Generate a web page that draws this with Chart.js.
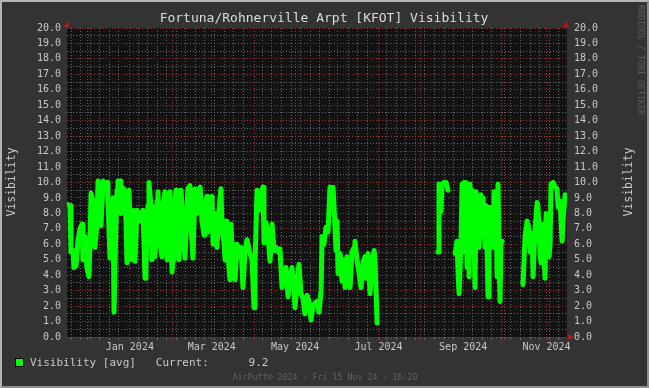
<!DOCTYPE html>
<html>
<head>
<meta charset="utf-8">
<script src="https://cdn.jsdelivr.net/npm/chart.js@4.4.1/dist/chart.umd.min.js"></script>
<style>
  html, body { margin: 0; padding: 0; background: #333333; }
  #wrap { width: 649px; height: 388px; }
</style>
</head>
<body>
<div id="wrap"><canvas id="visChart" width="649" height="388"></canvas></div>
<script>
// days since 16 Nov 2023, one year shown
var days = [
  0, 0.7, 2.2, 2.9, 4.4, 5.1, 6.6, 8.1, 9.5, 11.0, 11.7, 13.2, 14.6, 16.1, 16.8, 17.6, 19.0, 20.5, 22.0, 22.7,
  24.2, 24.9, 26.4, 27.8, 29.3, 30.0, 31.5, 32.9, 33.7, 34.4, 35.9, 36.6, 37.3, 38.8, 39.5, 40.3, 41.7, 43.2, 43.9, 44.7,
  45.4, 46.9, 47.6, 48.3, 49.8, 51.2, 52.7, 54.2, 55.6, 57.1, 57.8, 59.3, 60.0, 61.5, 62.2, 63.7, 64.4, 65.9, 66.6, 68.1,
  69.5, 70.3, 71.7, 73.2, 73.9, 75.4, 76.9, 77.6, 78.3, 79.8, 80.5, 82.0, 83.5, 84.9, 86.4, 87.9, 88.6, 90.0, 90.8, 92.2,
  93.7, 95.2, 96.6, 97.4, 98.8, 100.3, 101.0, 102.5, 103.2, 104.7, 106.2, 106.9, 108.3, 109.8, 111.3, 112.7, 113.5, 114.9, 115.7, 116.4,
  117.1, 117.9, 119.3, 120.1, 120.8, 121.5, 122.3, 123.0, 124.5, 125.2, 126.7, 127.4, 128.8, 130.3, 131.8, 132.5, 134.0, 135.4, 136.9, 137.6,
  139.1, 140.6, 142.0, 143.5, 144.2, 145.7, 147.2, 148.6, 150.1, 151.5, 153.0, 154.5, 155.9, 157.4, 158.9, 160.3, 161.8, 163.3, 164.7, 166.2,
  166.9, 168.4, 169.8, 171.3, 172.8, 174.2, 175.7, 177.2, 178.6, 180.1, 181.6, 183.0, 184.5, 186.0, 186.7, 188.1, 189.6, 191.1, 192.5, 194.0,
  194.7, 195.5, 196.9, 197.7, 198.4, 199.9, 201.3, 202.8, 203.5, 205.0, 206.4, 207.2, 208.6, 210.1, 210.8, 212.3, 213.8, 215.2, 216.7, 218.2,
  218.9, 220.4, 221.8, 223.3, 224.8, 225.5, 227.0,
  249,
  271.6, 272.3, 273.1, 273.8, 274.5, 276.0, 277.5, 278.9,
  281.5,
  284.1, 285.5, 286.3, 287.0, 288.4, 289.2, 289.9, 290.6, 291.4, 292.1, 292.8, 293.6, 294.3, 295.0, 295.8, 296.5, 298.0, 298.7, 299.4, 300.2,
  300.9, 301.6, 303.1, 303.8, 304.6, 306.0, 306.7, 307.5, 308.2, 308.9, 309.7, 311.1, 311.9, 312.6, 313.3, 314.1, 314.8, 315.5, 316.3, 317.0,
  317.7, 318.5,
  326,
  333.8, 335.3, 336.8, 338.2, 339.0, 340.4, 341.2, 342.6, 344.1, 344.8, 346.3, 347.0, 348.5, 349.2, 349.9, 350.7, 352.1, 352.9, 353.6, 354.3,
  355.8, 357.3, 358.7, 359.5, 360.9, 362.4, 363.1, 364.6
];
var vis = [
  8.6, 8.6, 8.5, 5.5, 5.6, 4.5, 4.6, 6.3, 7.0, 7.3, 5.0, 6.5, 4.5, 3.9, 6.0, 9.3, 8.8, 5.8, 7.5, 10.1,
  9.8, 7.2, 10.1, 9.9, 10.0, 8.8, 5.1, 8.0, 9.0, 1.6, 7.5, 9.5, 10.1, 10.1, 8.0, 8.3, 9.6, 7.5, 4.8, 8.8,
  9.5, 5.0, 7.8, 8.2, 4.9, 8.2, 8.0, 7.5, 8.2, 3.8, 4.5, 8.5, 10.0, 8.5, 5.0, 6.5, 5.2, 8.8, 9.4, 6.0,
  5.2, 8.5, 9.4, 5.0, 8.2, 9.4, 4.2, 5.0, 8.0, 9.5, 6.5, 5.0, 9.5, 7.2, 5.1, 8.5, 9.6, 9.8, 7.0, 5.1,
  9.6, 8.0, 9.5, 9.7, 7.5, 6.6, 8.5, 9.1, 6.8, 7.0, 9.1, 6.0, 8.0, 5.8, 8.2, 9.6, 7.0, 6.1, 5.0, 7.5,
  6.8, 5.2, 3.7, 7.3, 5.6, 4.6, 6.0, 3.7, 6.0, 5.8, 5.2, 5.8, 3.2, 5.5, 6.3, 6.0, 5.4, 5.0, 1.9, 4.5,
  9.5, 8.2, 9.3, 9.7, 6.1, 7.4, 6.5, 4.9, 7.3, 5.6, 5.8, 5.5, 5.7, 3.2, 4.0, 4.5, 2.6, 3.8, 4.5, 3.2,
  1.9, 3.5, 4.7, 2.8, 2.5, 1.5, 2.7, 2.3, 1.1, 2.0, 2.2, 2.3, 1.6, 3.0, 6.5, 6.0, 7.1, 6.8, 9.7, 8.8,
  9.7, 8.4, 5.6, 7.5, 4.1, 5.4, 3.6, 5.0, 3.2, 5.2, 4.8, 3.2, 5.5, 5.8, 6.2, 5.0, 4.1, 3.2, 4.8, 5.2,
  3.8, 5.4, 2.8, 4.8, 5.6, 5.0, 0.9,
  null,
  5.5, 9.9, 9.8, 8.1, 9.9, 10.0, 10.0, 9.5,
  null,
  5.4, 6.2, 4.0, 2.8, 6.0, 9.9, 5.5, 10.0, 7.0, 10.0, 4.5, 9.8, 3.9, 9.9, 5.8, 9.5, 6.0, 3.2, 9.4, 7.0,
  9.0, 5.8, 9.2, 6.5, 9.0, 5.8, 8.5, 5.8, 2.6, 8.4, 6.2, 8.4, 5.8, 9.4, 6.0, 9.4, 3.9, 9.9, 5.0, 2.3,
  6.2, 6.2,
  null,
  3.4, 6.5, 7.5, 7.0, 5.5, 6.7, 3.9, 7.0, 8.7, 8.4, 5.4, 4.8, 7.3, 5.5, 3.8, 8.0, 7.5, 5.2, 6.0, 9.9,
  10.0, 9.7, 9.6, 8.4, 8.8, 6.2, 7.5, 9.2
];

var monthDays = [15, 46, 77, 106, 137, 167, 198, 228, 259, 290, 320, 351];
var monthLabels = ['', 'Jan 2024', '', 'Mar 2024', '', 'May 2024', '', 'Jul 2024', '', 'Sep 2024', '', 'Nov 2024'];
var currentValue = '9.2';

var font = 'DejaVu Sans Mono';
var textColor = '#c8c8c8';
var majorGrid = '#a03636';
var minorGrid = '#666666';

var points = [];
for (var i = 0; i < days.length; i++) {
    points.push({ x: days[i], y: vis[i] });
}

var weekDays = [];
for (var d = 3; d < 366; d += 7) {
    weekDays.push(d);
}

var decorPlugin = {
    id: 'decor',
    beforeDraw: function (chart) {
        var ctx = chart.ctx;
        var a = chart.chartArea;
        ctx.save();
        ctx.fillStyle = '#333333';
        ctx.fillRect(0, 0, chart.width, chart.height);
        ctx.fillStyle = '#121212';
        ctx.fillRect(a.left, a.top, a.right - a.left, a.bottom - a.top);
        ctx.restore();
    },
    afterDraw: function (chart) {
        var ctx = chart.ctx;
        var a = chart.chartArea;
        ctx.save();

        // title
        ctx.fillStyle = '#dcdcdc';
        ctx.font = '13px "' + font + '"';
        ctx.textAlign = 'center';
        ctx.textBaseline = 'middle';
        ctx.fillText('Fortuna/Rohnerville Arpt [KFOT] Visibility', 324, 19);

        // arrows
        ctx.fillStyle = '#a81e1e';
        [a.left, a.right - 1].forEach(function (x) {
            ctx.beginPath();
            ctx.moveTo(x - 3, a.top - 1);
            ctx.lineTo(x + 3, a.top - 1);
            ctx.lineTo(x, a.top - 7);
            ctx.closePath();
            ctx.fill();
        });
        ctx.beginPath();
        ctx.moveTo(a.right + 1, a.bottom - 3);
        ctx.lineTo(a.right + 1, a.bottom + 3);
        ctx.lineTo(a.right + 7, a.bottom);
        ctx.closePath();
        ctx.fill();

        // y axis titles
        ctx.fillStyle = textColor;
        ctx.font = '11.5px "' + font + '"';
        ctx.save();
        ctx.translate(12, 182);
        ctx.rotate(-Math.PI / 2);
        ctx.fillText('Visibility', 0, 0);
        ctx.restore();
        ctx.save();
        ctx.translate(629, 182);
        ctx.rotate(-Math.PI / 2);
        ctx.fillText('Visibility', 0, 0);
        ctx.restore();

        // rrdtool credit
        ctx.save();
        ctx.fillStyle = '#5c5c5c';
        ctx.font = '8.3px "' + font + '"';
        ctx.translate(640, 5);
        ctx.rotate(Math.PI / 2);
        ctx.textAlign = 'left';
        ctx.fillText('RRDTOOL / TOBI OETIKER', 0, 0);
        ctx.restore();

        // legend
        ctx.fillStyle = '#00ff00';
        ctx.fillRect(15, 358, 9, 9);
        ctx.strokeStyle = '#000000';
        ctx.lineWidth = 1;
        ctx.strokeRect(15.5, 358.5, 8, 8);
        ctx.fillStyle = textColor;
        ctx.font = '11px "' + font + '"';
        ctx.textAlign = 'left';
        ctx.fillText('Visibility [avg]   Current:      ' + currentValue, 30, 363);

        // footer
        ctx.fillStyle = '#626262';
        ctx.font = '8.3px "' + font + '"';
        ctx.textAlign = 'center';
        ctx.fillText('AirPuff\u00ae 2024 - Fri 15 Nov 24 - 16:20', 325, 378);

        // frame
        ctx.lineWidth = 2;
        ctx.strokeStyle = '#b4b4b4';
        ctx.beginPath();
        ctx.moveTo(1, chart.height);
        ctx.lineTo(1, 1);
        ctx.lineTo(chart.width, 1);
        ctx.stroke();
        ctx.strokeStyle = '#8e8e8e';
        ctx.beginPath();
        ctx.moveTo(chart.width - 1, 1);
        ctx.lineTo(chart.width - 1, chart.height - 1);
        ctx.lineTo(1, chart.height - 1);
        ctx.stroke();

        ctx.restore();
    }
};

var ctx = document.getElementById('visChart');
var visChart = new Chart(ctx, {
    type: 'line',
    data: {
        datasets: [{
            label: 'Visibility [avg]',
            data: points,
            borderColor: '#00ff00',
            borderWidth: 5,
            borderJoinStyle: 'round',
            borderCapStyle: 'round',
            pointRadius: 0,
            tension: 0,
            spanGaps: false,
            yAxisID: 'y'
        }]
    },
    options: {
        responsive: false,
        animation: false,
        layout: { padding: { top: 28, left: 0, right: 0, bottom: 0 } },
        plugins: {
            legend: { display: false },
            title: { display: false },
            tooltip: { enabled: false }
        },
        scales: {
            x: {
                type: 'linear',
                min: 0,
                max: 366,
                afterBuildTicks: function (scale) {
                    var all = monthDays.concat(weekDays.filter(function (w) {
                        return monthDays.every(function (m) { return Math.abs(m - w) > 1.5; });
                    }));
                    all.sort(function (p, q) { return p - q; });
                    scale.ticks = all.map(function (v) { return { value: v }; });
                },
                afterFit: function (scale) { scale.height = 51; },
                border: { display: false, dash: [1, 2] },
                grid: {
                    color: function (c) {
                        return monthDays.indexOf(c.tick.value) >= 0 ? majorGrid : minorGrid;
                    },
                    lineWidth: 1,
                    tickLength: 3,
                    drawTicks: true
                },
                ticks: {
                    autoSkip: false,
                    maxRotation: 0,
                    padding: 1,
                    color: textColor,
                    font: { family: font, size: 10 },
                    callback: function (v) {
                        var k = monthDays.indexOf(v);
                        return k >= 0 ? monthLabels[k] : '';
                    }
                }
            },
            y: {
                position: 'left',
                min: 0,
                max: 20,
                afterFit: function (scale) { scale.width = 67; },
                border: { display: false, dash: [1, 2] },
                grid: {
                    color: function (c) {
                        return Number.isInteger(c.tick.value) ? majorGrid : minorGrid;
                    },
                    drawTicks: false
                },
                ticks: {
                    stepSize: 0.5,
                    autoSkip: false,
                    padding: 6,
                    color: textColor,
                    font: { family: font, size: 10 },
                    callback: function (v) { return Number.isInteger(v) ? v.toFixed(1) : ''; }
                }
            },
            y2: {
                position: 'right',
                min: 0,
                max: 20,
                afterFit: function (scale) { scale.width = 82; },
                border: { display: false },
                grid: { drawOnChartArea: false, drawTicks: false },
                ticks: {
                    stepSize: 0.5,
                    autoSkip: false,
                    padding: 7,
                    color: textColor,
                    font: { family: font, size: 10 },
                    callback: function (v) { return Number.isInteger(v) ? v.toFixed(1) : ''; }
                }
            }
        }
    },
    plugins: [decorPlugin]
});
</script>
</body>
</html>
